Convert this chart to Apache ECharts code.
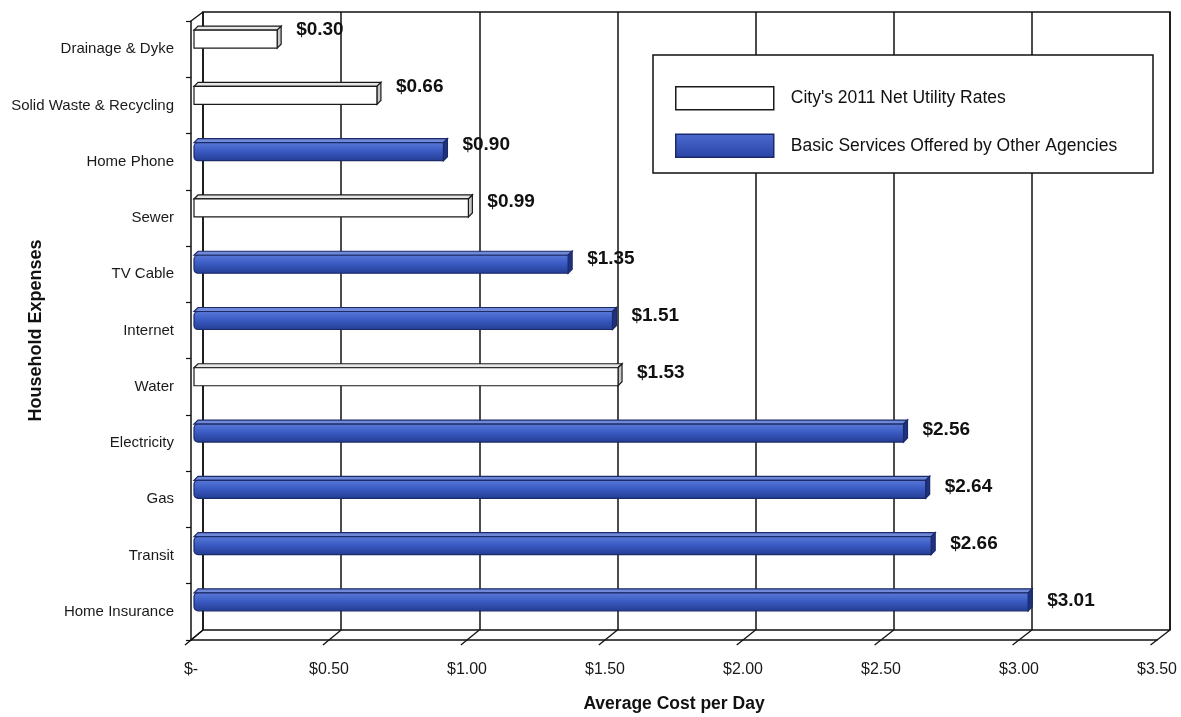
<!DOCTYPE html>
<html>
<head>
<meta charset="utf-8">
<title>Household Expenses – Average Cost per Day</title>
<script src="https://cdn.jsdelivr.net/npm/echarts@6/dist/echarts.min.js"></script>
<style>
  html, body { margin: 0; padding: 0; background: #fff; }
  #chart { width: 1181px; height: 717px; }
</style>
</head>
<body>
<div id="chart"></div>
<script>
// ---- data ----
const categories = [
  'Drainage & Dyke', 'Solid Waste & Recycling', 'Home Phone', 'Sewer', 'TV Cable',
  'Internet', 'Water', 'Electricity', 'Gas', 'Transit', 'Home Insurance'
];
const cityRates   = [0.30, 0.66, null, 0.99, null, null, 1.53, null, null, null, null];
const agencyRates = [null, null, 0.90, null, 1.35, 1.51, null, 2.56, 2.64, 2.66, 3.01];
const costTicks   = [0, 0.5, 1, 1.5, 2, 2.5, 3, 3.5];
const seriesNames = ["City's 2011 Net Utility Rates", 'Basic Services Offered by Other Agencies'];

// ---- layout: back wall, front plane and the bar plane of the pseudo-3D box ----
const BACK  = { left: 203, top: 12, right: 1170, bottom: 630 };
const FRONT = { left: 191, top: 21, right: 1157, bottom: 640 };
const BARS  = { left: 194, top: 9,  right: 1164, bottom: 628 };
const AX_MIN = costTicks[0], AX_MAX = costTicks[costTicks.length - 1], AX_STEP = costTicks[1] - costTicks[0];

const FONT = "'Liberation Sans', Arial, Helvetica, sans-serif";
const INK = '#111';

function gridOf(r) {
  return {
    left: r.left, top: r.top, width: r.right - r.left, height: r.bottom - r.top,
    containLabel: false, outerBoundsMode: 'none'
  };
}

const palettes = {
  city: {
    front: '#ffffff', top: '#e6e6e6', side: '#c8c8c8', stroke: '#1a1a1a', radius: 0
  },
  agency: {
    front: new echarts.graphic.LinearGradient(0, 0, 0, 1, [
      { offset: 0, color: '#5a7ad8' },
      { offset: 0.45, color: '#3b5cc4' },
      { offset: 1, color: '#233c92' }
    ]),
    top: '#7088d8', side: '#1f3280', stroke: '#1b2a68', radius: [4, 0, 0, 4]
  }
};

function fmtMoney(v) {
  return v === 0 ? '$-' : '$' + v.toFixed(2);
}

// draws one box-shaped bar with its value label, using the bar plane's scales
function makeRenderer(p) {
  return function (params, api) {
    const v = api.value(0);
    if (v == null || isNaN(v)) return null;
    const idx = api.value(1);
    const start = api.coord([0, idx]);
    const end = api.coord([v, idx]);
    const h = 18, d = 4;
    const cy = end[1] + d / 2;
    const y0 = cy - h / 2;
    const x0 = start[0], x1 = end[0];
    const lw = 1.2;
    const dy = -9 + 0.8 * idx;
    return {
      type: 'group',
      children: [
        {
          type: 'polygon',
          shape: { points: [[x0, y0], [x0 + d, y0 - d], [x1 + d, y0 - d], [x1, y0]] },
          style: { fill: p.top, stroke: p.stroke, lineWidth: lw }
        },
        {
          type: 'polygon',
          shape: { points: [[x1, y0], [x1 + d, y0 - d], [x1 + d, y0 - d + h], [x1, y0 + h]] },
          style: { fill: p.side, stroke: p.stroke, lineWidth: lw }
        },
        {
          type: 'rect',
          shape: { x: x0, y: y0, width: x1 - x0, height: h, r: p.radius },
          style: { fill: p.front, stroke: p.stroke, lineWidth: lw }
        },
        {
          type: 'text',
          style: {
            text: fmtMoney(v),
            x: x1 + d + 15,
            y: cy + dy,
            align: 'left',
            verticalAlign: 'middle',
            font: 'bold 19px ' + FONT,
            fill: '#111'
          }
        }
      ]
    };
  };
}

function seriesData(values) {
  const out = [];
  values.forEach((v, i) => { if (v != null) out.push([v, i]); });
  return out;
}

const chart = echarts.init(document.getElementById('chart'), null, { renderer: 'canvas' });

const option = {
  animation: false,
  backgroundColor: '#ffffff',
  textStyle: { fontFamily: FONT },
  grid: [
    Object.assign(gridOf(BACK), { show: true, borderColor: INK, borderWidth: 1.5, backgroundColor: 'transparent' }),
    gridOf(FRONT),
    gridOf(BARS)
  ],
  xAxis: [
    {
      gridIndex: 0, type: 'value', min: AX_MIN, max: AX_MAX, interval: AX_STEP,
      axisLine: { show: false }, axisTick: { show: false }, axisLabel: { show: false },
      splitLine: { show: true, lineStyle: { color: INK, width: 1.5 } }
    },
    {
      gridIndex: 1, type: 'value', min: AX_MIN, max: AX_MAX, interval: AX_STEP,
      axisLine: { show: true, onZero: false, lineStyle: { color: INK, width: 1.5 } },
      axisTick: { show: false },
      splitLine: { show: false },
      axisLabel: {
        show: true, margin: 22, fontSize: 16, color: '#1a1a1a', fontFamily: FONT,
        formatter: fmtMoney
      },
      name: 'Average Cost per Day',
      nameLocation: 'middle',
      nameGap: 55,
      nameMoveOverlap: false,
      nameTextStyle: { fontSize: 17.5, fontWeight: 'bold', color: '#111', fontFamily: FONT }
    },
    {
      gridIndex: 2, type: 'value', min: AX_MIN, max: AX_MAX, show: false
    }
  ],
  yAxis: [
    { gridIndex: 0, type: 'category', data: categories, inverse: true, show: false },
    {
      gridIndex: 1, type: 'category', data: categories, inverse: true,
      axisLine: { show: true, lineStyle: { color: INK, width: 1.5 } },
      axisTick: { show: true, inside: false, length: 5, lineStyle: { color: INK, width: 1.2 } },
      axisLabel: { margin: 17, fontSize: 15, color: '#1a1a1a', fontFamily: FONT },
      splitLine: { show: false },
      name: 'Household Expenses',
      nameLocation: 'middle',
      nameRotate: 90,
      nameGap: 146,
      nameMoveOverlap: false,
      nameTextStyle: { fontSize: 18, fontWeight: 'bold', color: '#111', fontFamily: FONT }
    },
    { gridIndex: 2, type: 'category', data: categories, inverse: true, show: false }
  ],
  legend: {
    orient: 'vertical',
    left: 670,
    top: 81,
    z: 20,
    icon: 'rect',
    itemWidth: 98,
    itemHeight: 23,
    itemGap: 23,
    selectedMode: false,
    textStyle: { fontSize: 17.5, color: '#111', fontFamily: FONT, padding: [0, 0, 0, 12] },
    data: [
      { name: seriesNames[0], itemStyle: { color: '#ffffff', borderColor: '#1a1a1a', borderWidth: 1.5 } },
      {
        name: seriesNames[1],
        itemStyle: {
          color: new echarts.graphic.LinearGradient(0, 0, 0, 1, [
            { offset: 0, color: '#4c6ad0' }, { offset: 1, color: '#2a44a6' }
          ]),
          borderColor: '#1b2a68', borderWidth: 1.5
        }
      }
    ]
  },
  series: [
    {
      name: seriesNames[0], type: 'custom', xAxisIndex: 2, yAxisIndex: 2, z: 5,
      itemStyle: { color: '#ffffff', borderColor: '#1a1a1a' },
      encode: { x: 0, y: 1 },
      renderItem: makeRenderer(palettes.city),
      data: seriesData(cityRates)
    },
    {
      name: seriesNames[1], type: 'custom', xAxisIndex: 2, yAxisIndex: 2, z: 5,
      itemStyle: { color: '#3b5cc4', borderColor: '#1b2a68' },
      encode: { x: 0, y: 1 },
      renderItem: makeRenderer(palettes.agency),
      data: seriesData(agencyRates)
    }
  ]
};

chart.setOption(option);

// ---- depth edges: wall corners, floor connectors and the legend frame ----
const deco = [];
const line = (x1, y1, x2, y2, w) => ({
  type: 'line', z: 3, silent: true,
  shape: { x1, y1, x2, y2 },
  style: { stroke: INK, lineWidth: w || 1.3 }
});

// left wall diagonals
deco.push(line(FRONT.left, FRONT.top, BACK.left, BACK.top));
deco.push(line(FRONT.left, FRONT.bottom, BACK.left, BACK.bottom));

// floor connectors, extending below the front edge as slanted ticks
costTicks.forEach(v => {
  const xb = chart.convertToPixel({ xAxisIndex: 0 }, v);
  const xf = chart.convertToPixel({ xAxisIndex: 1 }, v);
  const dx = xf - xb, dy = FRONT.bottom - BACK.bottom;
  const ext = 0.5;
  deco.push(line(xb, BACK.bottom, xf + dx * ext, FRONT.bottom + dy * ext));
});

// legend frame
deco.push({
  type: 'rect', z: 10, silent: true,
  shape: { x: 653, y: 55, width: 500, height: 118 },
  style: { fill: '#ffffff', stroke: INK, lineWidth: 1.5 }
});

chart.setOption({ graphic: { elements: deco } });
</script>
</body>
</html>
